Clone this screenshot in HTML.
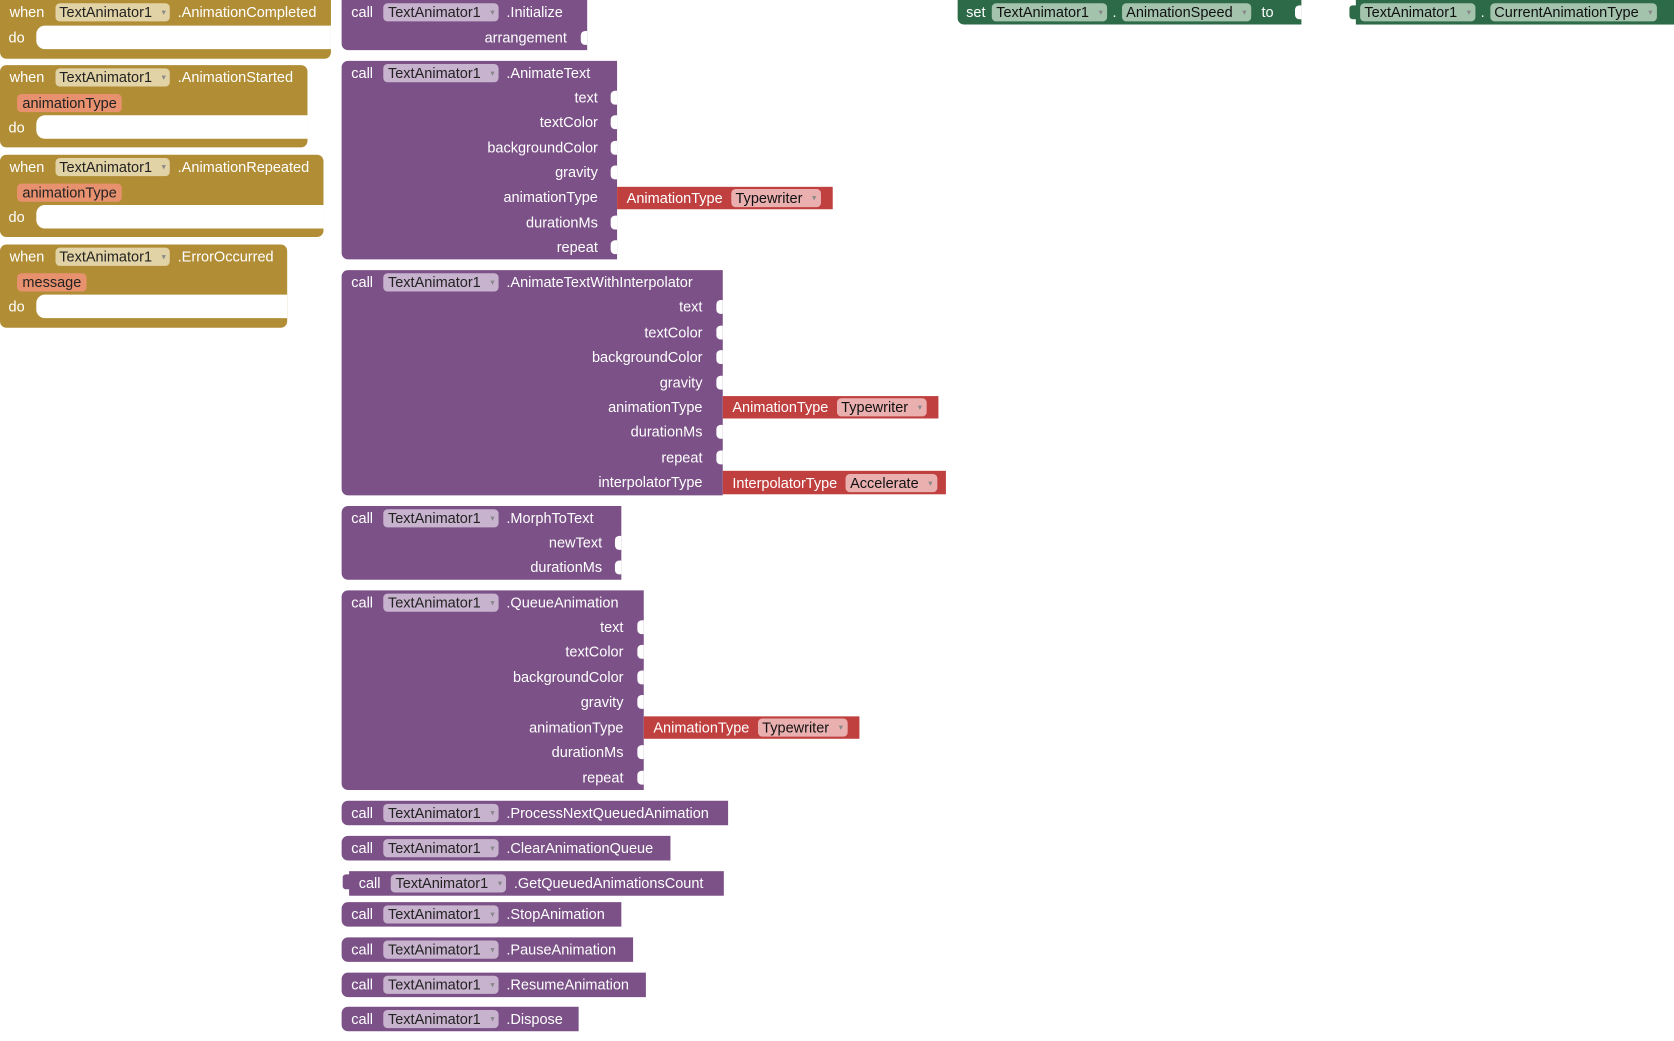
<!DOCTYPE html>
<html><head><meta charset="utf-8"><style>
*{margin:0;padding:0;box-sizing:border-box}
body{width:1674px;height:1041px;background:#fff;overflow:hidden;font-family:"Liberation Sans",sans-serif}
#w{position:absolute;left:0;top:0;width:1568px;height:975px;transform:scale(1.0676);transform-origin:0 0}
.b{position:absolute}
.P{background:#7b5187;border-radius:0 0 0 6px}
.G{background:#b18e35}
.R{background:#c0403f}
.N{background:#2d6a47}
.h{position:absolute;left:0;top:0;height:23px;display:flex;align-items:center;padding-left:9px;color:#fff;font-size:13.6px;white-space:nowrap}
.h .k{margin-right:10px}
.h .m{margin-left:7px}
.dd{display:inline-flex;align-items:center;height:17px;border-radius:4px;padding:0 4px;color:#222;font-size:13.6px}
.dd i{font-style:normal;font-size:8px;color:#888;margin-left:9px}
.P .dd{background:#c8b3ce}
.G .dd{background:#e2d3a6}
.N .dd{background:#a3c3ad;color:#111}
.R .dd{background:#eab0b0;color:#111}
.l{position:absolute;color:#fff;font-size:13.6px;text-align:right;white-space:nowrap;line-height:16px}
.s{position:absolute;width:6px;height:13px;background:#fff;border-radius:4px 0 0 4px}
.ws{position:absolute;background:#fff;border-radius:8px 0 0 8px}
.ar{position:absolute;height:17px;border-radius:4px;background:#e8916f;color:#222;font-size:13.6px;line-height:17px;padding:0 5px}
</style></head><body><div id="w">

<div class="b G" style="left:0;top:0;width:310px;height:55px;border-radius:0 0 6px 6px">
 <div class="h"><span class="k">when</span><span class="dd">TextAnimator1<i>▾</i></span><span class="m">.AnimationCompleted</span></div>
 <div class="l" style="left:8px;top:28px">do</div>
 <div class="ws" style="left:34px;top:24px;width:276px;height:22px"></div>
</div>
<div class="b G" style="left:0;top:61px;width:288px;height:77px;border-radius:6px">
 <div class="h"><span class="k">when</span><span class="dd">TextAnimator1<i>▾</i></span><span class="m">.AnimationStarted</span></div>
 <div class="ar" style="left:16px;top:27px">animationType</div>
 <div class="l" style="left:8px;top:51px">do</div>
 <div class="ws" style="left:34px;top:47px;width:254px;height:22px"></div>
</div>
<div class="b G" style="left:0;top:145px;width:303px;height:77px;border-radius:6px">
 <div class="h"><span class="k">when</span><span class="dd">TextAnimator1<i>▾</i></span><span class="m">.AnimationRepeated</span></div>
 <div class="ar" style="left:16px;top:27px">animationType</div>
 <div class="l" style="left:8px;top:51px">do</div>
 <div class="ws" style="left:34px;top:47px;width:269px;height:22px"></div>
</div>
<div class="b G" style="left:0;top:229px;width:269px;height:78px;border-radius:6px">
 <div class="h"><span class="k">when</span><span class="dd">TextAnimator1<i>▾</i></span><span class="m">.ErrorOccurred</span></div>
 <div class="ar" style="left:16px;top:27px">message</div>
 <div class="l" style="left:8px;top:51px">do</div>
 <div class="ws" style="left:34px;top:47px;width:235px;height:22px"></div>
</div>

<div class="b P" style="left:320px;top:0;width:230px;height:47px;border-radius:0 0 0 6px">
 <div class="h"><span class="k">call</span><span class="dd">TextAnimator1<i>▾</i></span><span class="m">.Initialize</span></div>
 <div class="l" style="right:19px;top:28px">arrangement</div><div class="s" style="right:0;top:29px"></div>
</div>

<div class="b P" style="left:320px;top:57px;width:258px;height:186px;border-radius:6px 0 0 6px">
 <div class="h" style="top:0"><span class="k">call</span><span class="dd">TextAnimator1<i>▾</i></span><span class="m">.AnimateText</span></div>
 <div class="l" style="right:18px;top:27px">text</div><div class="s" style="right:0;top:28px"></div>
 <div class="l" style="right:18px;top:50px">textColor</div><div class="s" style="right:0;top:51px"></div>
 <div class="l" style="right:18px;top:74px">backgroundColor</div><div class="s" style="right:0;top:75px"></div>
 <div class="l" style="right:18px;top:97px">gravity</div><div class="s" style="right:0;top:98px"></div>
 <div class="l" style="right:18px;top:120px">animationType</div>
 <div class="l" style="right:18px;top:144px">durationMs</div><div class="s" style="right:0;top:145px"></div>
 <div class="l" style="right:18px;top:167px">repeat</div><div class="s" style="right:0;top:168px"></div>
</div>
<div class="b R" style="left:578px;top:175px;width:202px;height:21px"><div class="h" style="height:21px"><span style="margin-right:8px">AnimationType</span><span class="dd">Typewriter<i>▾</i></span></div></div>

<div class="b P" style="left:320px;top:253px;width:357px;height:211px;border-radius:6px 0 0 6px">
 <div class="h"><span class="k">call</span><span class="dd">TextAnimator1<i>▾</i></span><span class="m">.AnimateTextWithInterpolator</span></div>
 <div class="l" style="right:19px;top:27px">text</div><div class="s" style="right:0;top:28px"></div>
 <div class="l" style="right:19px;top:51px">textColor</div><div class="s" style="right:0;top:52px"></div>
 <div class="l" style="right:19px;top:74px">backgroundColor</div><div class="s" style="right:0;top:75px"></div>
 <div class="l" style="right:19px;top:98px">gravity</div><div class="s" style="right:0;top:99px"></div>
 <div class="l" style="right:19px;top:121px">animationType</div>
 <div class="l" style="right:19px;top:144px">durationMs</div><div class="s" style="right:0;top:145px"></div>
 <div class="l" style="right:19px;top:168px">repeat</div><div class="s" style="right:0;top:169px"></div>
 <div class="l" style="right:19px;top:191px">interpolatorType</div>
</div>
<div class="b R" style="left:677px;top:371px;width:202px;height:21px"><div class="h" style="height:21px"><span style="margin-right:8px">AnimationType</span><span class="dd">Typewriter<i>▾</i></span></div></div>
<div class="b R" style="left:677px;top:441px;width:209px;height:22px"><div class="h" style="height:22px"><span style="margin-right:8px">InterpolatorType</span><span class="dd">Accelerate<i>▾</i></span></div></div>

<div class="b P" style="left:320px;top:474px;width:262px;height:69px;border-radius:6px 0 0 6px">
 <div class="h"><span class="k">call</span><span class="dd">TextAnimator1<i>▾</i></span><span class="m">.MorphToText</span></div>
 <div class="l" style="right:18px;top:27px">newText</div><div class="s" style="right:0;top:28px"></div>
 <div class="l" style="right:18px;top:50px">durationMs</div><div class="s" style="right:0;top:51px"></div>
</div>

<div class="b P" style="left:320px;top:553px;width:283px;height:187px;border-radius:6px 0 0 6px">
 <div class="h"><span class="k">call</span><span class="dd">TextAnimator1<i>▾</i></span><span class="m">.QueueAnimation</span></div>
 <div class="l" style="right:19px;top:27px">text</div><div class="s" style="right:0;top:28px"></div>
 <div class="l" style="right:19px;top:50px">textColor</div><div class="s" style="right:0;top:51px"></div>
 <div class="l" style="right:19px;top:74px">backgroundColor</div><div class="s" style="right:0;top:75px"></div>
 <div class="l" style="right:19px;top:97px">gravity</div><div class="s" style="right:0;top:98px"></div>
 <div class="l" style="right:19px;top:121px">animationType</div>
 <div class="l" style="right:19px;top:144px">durationMs</div><div class="s" style="right:0;top:145px"></div>
 <div class="l" style="right:19px;top:168px">repeat</div><div class="s" style="right:0;top:169px"></div>
</div>
<div class="b R" style="left:603px;top:671px;width:202px;height:21px"><div class="h" style="height:21px"><span style="margin-right:8px">AnimationType</span><span class="dd">Typewriter<i>▾</i></span></div></div>

<div class="b P" style="left:320px;top:750px;width:362px;height:23px;border-radius:6px 0 0 6px"><div class="h"><span class="k">call</span><span class="dd">TextAnimator1<i>▾</i></span><span class="m">.ProcessNextQueuedAnimation</span></div></div>
<div class="b P" style="left:320px;top:783px;width:308px;height:23px;border-radius:6px 0 0 6px"><div class="h"><span class="k">call</span><span class="dd">TextAnimator1<i>▾</i></span><span class="m">.ClearAnimationQueue</span></div></div>
<div class="b P" style="left:327px;top:816px;width:351px;height:23px;border-radius:0"><div class="h"><span class="k">call</span><span class="dd">TextAnimator1<i>▾</i></span><span class="m">.GetQueuedAnimationsCount</span></div></div>
<div class="b P" style="left:321px;top:819px;width:7px;height:14px;border-radius:3px 0 0 3px"></div>
<div class="b P" style="left:320px;top:845px;width:262px;height:23px;border-radius:6px 0 0 6px"><div class="h"><span class="k">call</span><span class="dd">TextAnimator1<i>▾</i></span><span class="m">.StopAnimation</span></div></div>
<div class="b P" style="left:320px;top:878px;width:273px;height:23px;border-radius:6px 0 0 6px"><div class="h"><span class="k">call</span><span class="dd">TextAnimator1<i>▾</i></span><span class="m">.PauseAnimation</span></div></div>
<div class="b P" style="left:320px;top:911px;width:285px;height:23px;border-radius:6px 0 0 6px"><div class="h"><span class="k">call</span><span class="dd">TextAnimator1<i>▾</i></span><span class="m">.ResumeAnimation</span></div></div>
<div class="b P" style="left:320px;top:943px;width:222px;height:23px;border-radius:6px 0 0 6px"><div class="h"><span class="k">call</span><span class="dd">TextAnimator1<i>▾</i></span><span class="m">.Dispose</span></div></div>

<div class="b N" style="left:897px;top:0;width:322px;height:23px;border-radius:0 0 0 6px">
 <div class="h" style="padding-left:8px"><span style="margin-right:6px">set</span><span class="dd">TextAnimator1<i>▾</i></span><span style="margin:0 5px">.</span><span class="dd">AnimationSpeed<i>▾</i></span><span style="margin-left:10px">to</span></div>
 <div class="s" style="right:0;top:5px"></div>
</div>
<div class="b N" style="left:1270px;top:0;width:298px;height:23px">
 <div class="h" style="padding-left:4px"><span class="dd">TextAnimator1<i>▾</i></span><span style="margin:0 5px">.</span><span class="dd">CurrentAnimationType<i>▾</i></span></div>
</div>
<div class="b N" style="left:1264px;top:5px;width:7px;height:13px;border-radius:3px 0 0 3px"></div>

</div></body></html>
